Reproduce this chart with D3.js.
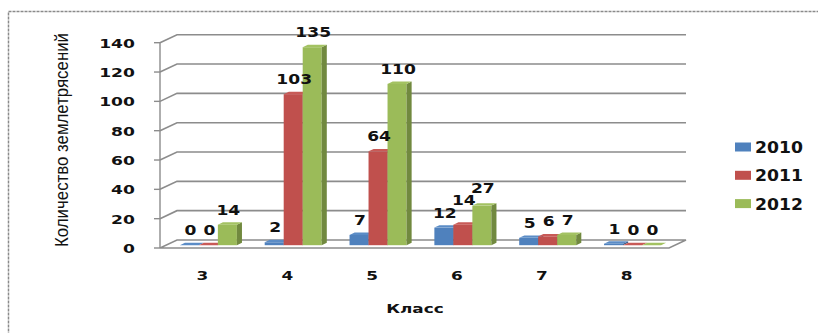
<!DOCTYPE html>
<html>
<head>
<meta charset="utf-8">
<script src="https://cdn.jsdelivr.net/npm/d3@7"></script>
<style>
  body { margin: 0; background: #fff; }
</style>
</head>
<body>
<div id="chart"></div>
<script>
// values
var categories = ["3", "4", "5", "6", "7", "8"];
var seriesNames = ["2010", "2011", "2012"];
var values2010 = [0, 2, 7, 12, 5, 1];
var values2011 = [0, 103, 64, 14, 6, 0];
var values2012 = [14, 135, 110, 27, 7, 0];
var yTicks = [0, 20, 40, 60, 80, 100, 120, 140];

var seriesValues = [values2010, values2011, values2012];
var fronts = ["#4f81bd", "#c0504d", "#9bbb59"];
var sides = ["#385d8a", "#8c3836", "#71893f"];
var tops = ["#5b8cc6", "#c85a57", "#a3c262"];

var width = 818, height = 333;
var DX = 17, DY = -8;          // full depth of the plot box
var f0 = 0.35, f1 = 0.65;      // bar front / back depth

var svg = d3.select("#chart").append("svg")
    .attr("width", width)
    .attr("height", height)
    .style("font-family", "'DejaVu Sans', Verdana, sans-serif");

// outer frame
svg.append("rect")
    .attr("x", 8.5).attr("y", 11.5)
    .attr("width", 830).attr("height", 340)
    .style("fill", "none")
    .style("stroke", "#8a8a8a")
    .style("stroke-width", 1.5)
    .style("stroke-dasharray", "3,1");

var x = d3.scaleBand().domain(categories).range([160, 669]);
var groupW = 57;
var xs = d3.scaleBand().domain(seriesNames).range([0, groupW]);
var y = d3.scaleLinear().domain([0, 140]).range([248, 42.7]);

function stext(px, py, str, size, sx, anchor, weight) {
    return svg.append("text")
        .attr("transform", "translate(" + px + "," + py + ") scale(" + sx + ",1)")
        .attr("text-anchor", anchor)
        .style("font-size", size + "px")
        .style("font-weight", weight || "bold")
        .style("fill", "#111")
        .text(str);
}

// gridlines: left side wall + back wall
var x0 = x.range()[0], x1 = x.range()[1];
yTicks.forEach(function(t) {
    if (t === 0) return;
    svg.append("polyline")
        .attr("points", [[x0, y(t)], [x0 + DX, y(t) + DY], [x1 + DX, y(t) + DY]].join(" "))
        .style("fill", "none")
        .style("stroke", "#8c8c8c")
        .style("stroke-width", 1.6);
});

// floor
svg.append("polygon")
    .attr("points", [[x0, y(0)], [x1, y(0)], [x1 + DX, y(0) + DY], [x0 + DX, y(0) + DY]].join(" "))
    .style("fill", "#fff")
    .style("stroke", "#8c8c8c")
    .style("stroke-width", 1.4);

// vertical axis line and ticks
svg.append("line")
    .attr("x1", x0).attr("y1", y(140))
    .attr("x2", x0).attr("y2", y(0))
    .style("stroke", "#8c8c8c")
    .style("stroke-width", 1.4);

yTicks.forEach(function(t) {
    svg.append("line")
        .attr("x1", x0 - 6).attr("y1", y(t))
        .attr("x2", x0).attr("y2", y(t))
        .style("stroke", "#8c8c8c")
        .style("stroke-width", 1.4);
    stext(135, y(t) + 5, t, 13, 1.32, "end");
});

// bars
var labels = [];
categories.forEach(function(c, ci) {
    var placed = [];
    seriesNames.forEach(function(s, si) {
        var v = seriesValues[si][ci];
        var bx = x(c) + (x.bandwidth() - groupW) / 2 + xs(s) + DX * f0;
        var bw = xs.bandwidth();
        var yb = y(0) + DY * f0;
        var yt = y(v) + DY * f0;
        var ddx = DX * (f1 - f0), ddy = DY * (f1 - f0);

        svg.append("rect")
            .attr("x", bx).attr("y", yt)
            .attr("width", bw).attr("height", Math.max(0, yb - yt))
            .style("fill", fronts[si]);
        svg.append("polygon")
            .attr("points", [[bx + bw, yt], [bx + bw + ddx, yt + ddy], [bx + bw + ddx, yb + ddy], [bx + bw, yb]].join(" "))
            .style("fill", sides[si]);
        svg.append("polygon")
            .attr("points", [[bx, yt], [bx + bw, yt], [bx + bw + ddx, yt + ddy], [bx + ddx, yt + ddy]].join(" "))
            .style("fill", tops[si]);

        // data label, pushed up when it runs into the previous one
        var lx = bx + bw / 2 + 1;
        var ly = yt - 10;
        var lw = String(v).length * 11.2;
        placed.forEach(function(p) {
            var hOver = Math.min(lx + lw / 2, p.x + p.w / 2) - Math.max(lx - lw / 2, p.x - p.w / 2);
            if (hOver > 0 && Math.abs(ly - p.y) < 12) ly = p.y - 12.5;
        });
        placed.push({x: lx, y: ly, w: lw});
        labels.push({x: lx, y: ly, t: v});
    });
});

labels.forEach(function(l) {
    stext(l.x, l.y, l.t, 14.5, 1.18, "middle");
});

// category labels
categories.forEach(function(c) {
    stext(x(c) + x.bandwidth() / 2, 280, c, 13, 1.3, "middle");
});

stext(415, 313, "Класс", 13, 1.3, "middle");

// y axis title
svg.append("text")
    .attr("transform", "translate(68,140) rotate(-90)")
    .attr("text-anchor", "middle")
    .attr("textLength", 214)
    .attr("lengthAdjust", "spacingAndGlyphs")
    .style("font-family", "'Liberation Sans Narrow', 'Liberation Sans', Arial, sans-serif")
    .style("font-size", "18px")
    .style("fill", "#111")
    .text("Количество землетрясений");

// legend
seriesNames.forEach(function(s, i) {
    var ly = 147 + i * 28.3;
    svg.append("rect")
        .attr("x", 735).attr("y", ly - 4.5)
        .attr("width", 16).attr("height", 9)
        .style("fill", fronts[i]);
    stext(755, ly + 6, s, 15, 1.15, "start");
});
</script>
</body>
</html>
